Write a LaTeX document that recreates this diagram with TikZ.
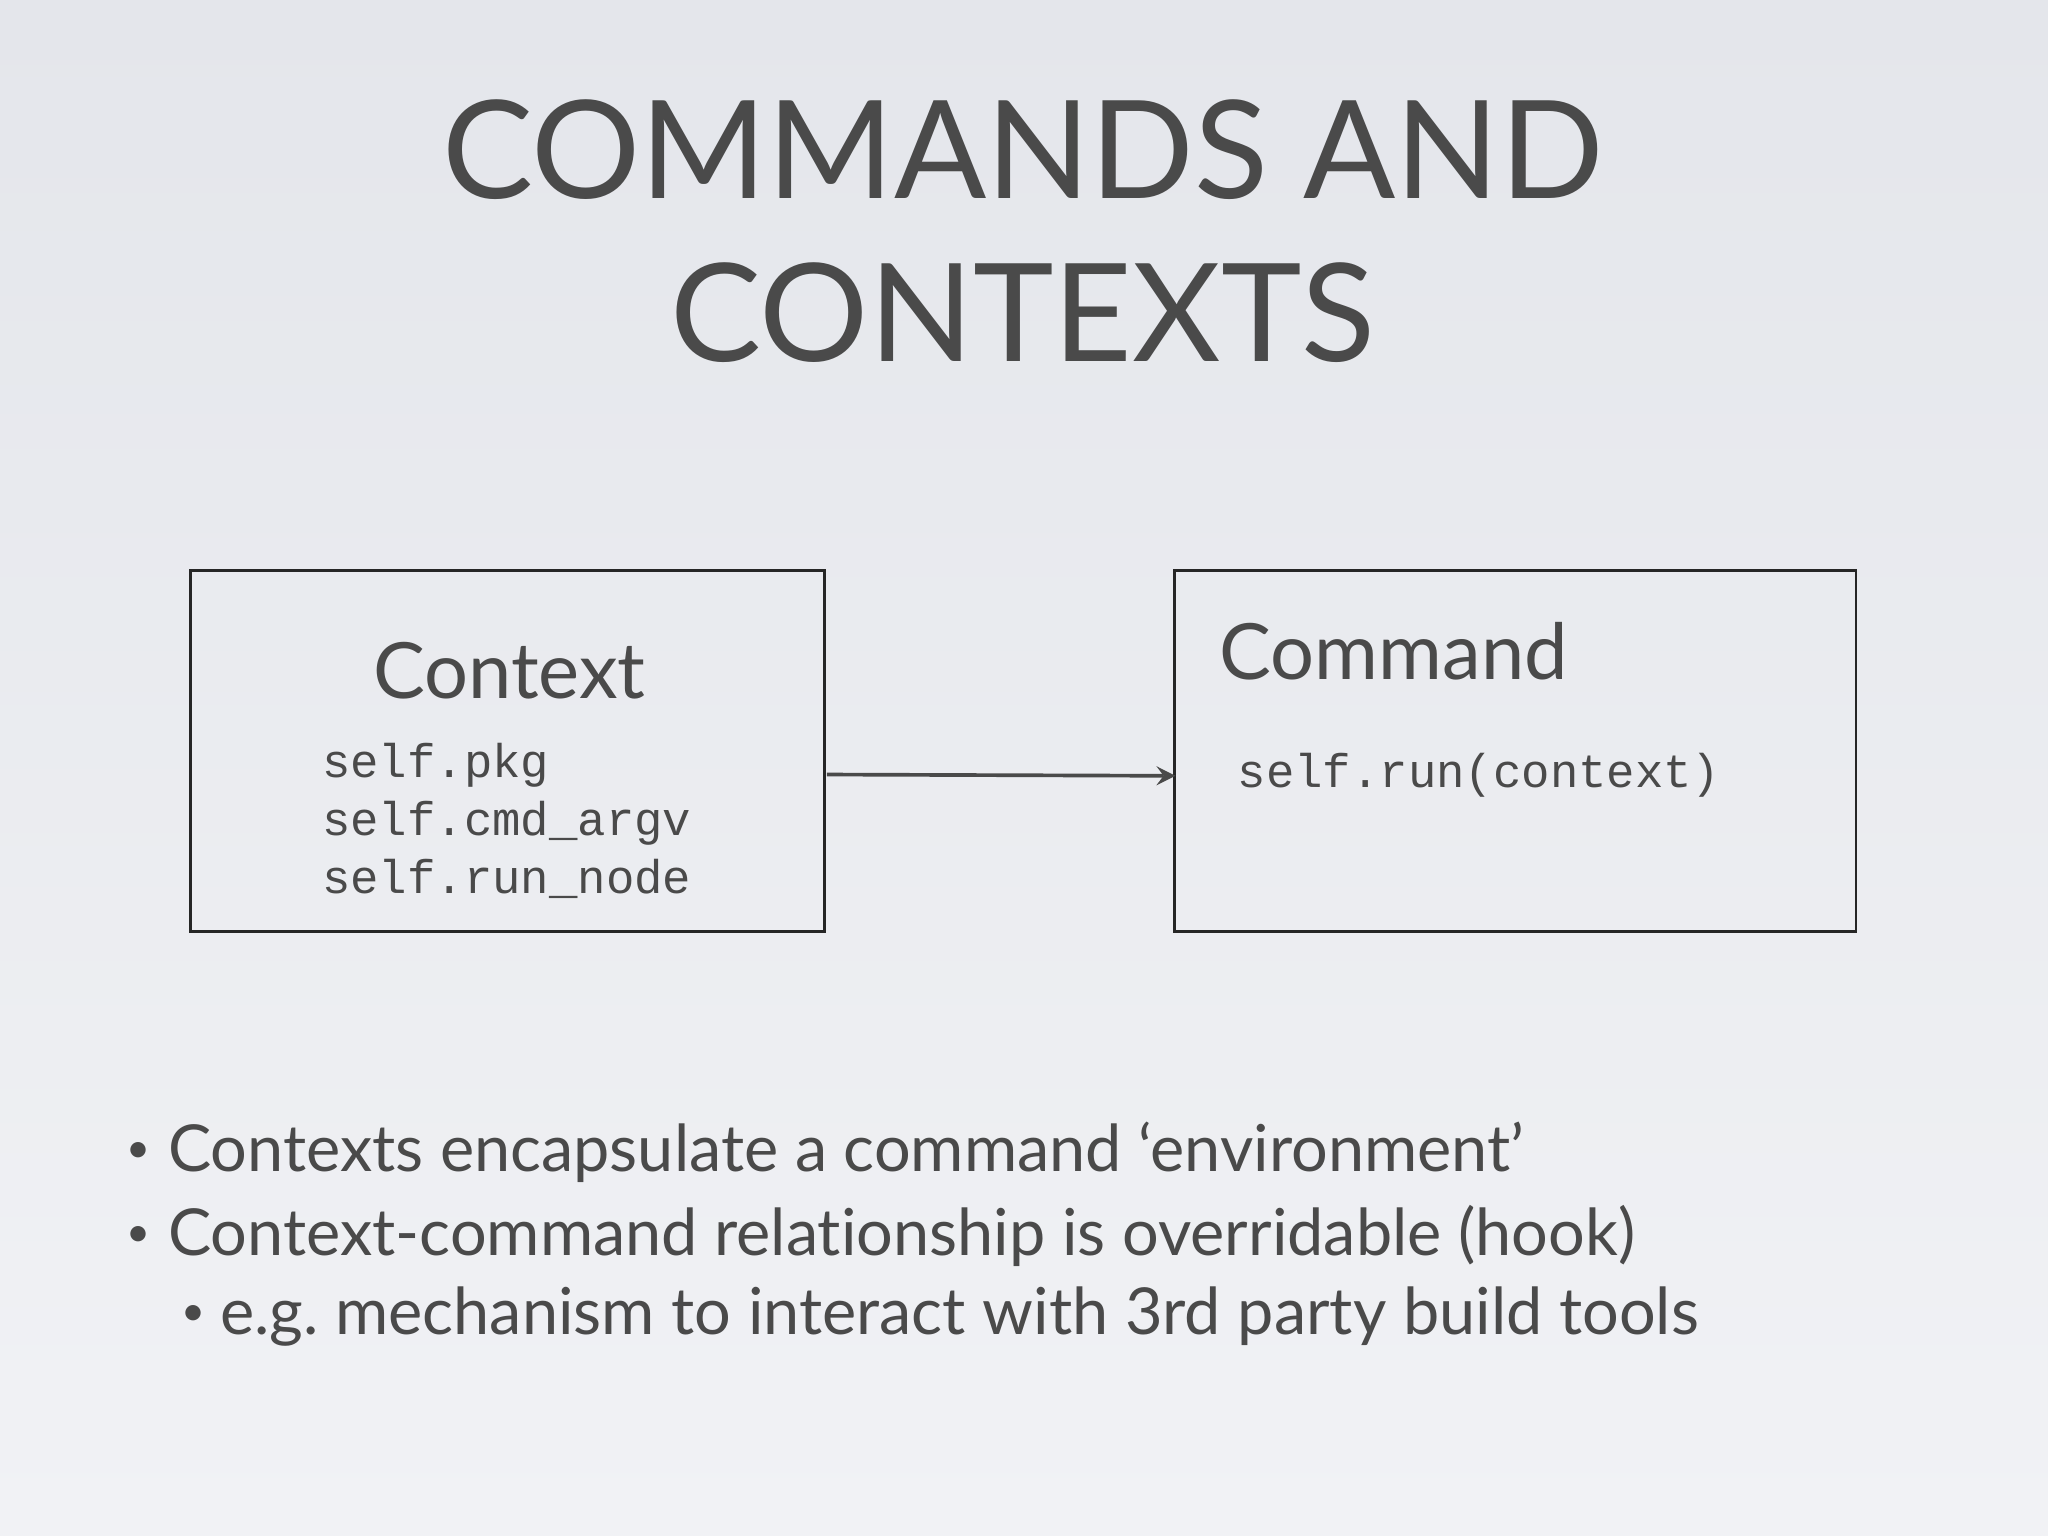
\documentclass[tikz,border=0pt]{standalone}
\usepackage{fontspec}
\setmainfont{Lato}[Ligatures={CommonOff}]
\setmonofont{Liberation Mono}
\definecolor{tx}{HTML}{4A4A4A}
\definecolor{bgtop}{HTML}{E4E6EB}
\definecolor{bgmid}{HTML}{F1F2F5}
\begin{document}
\begin{tikzpicture}[x=0.01cm,y=-0.01cm,
  box/.style={draw=black!85,line width=0.6pt},
  txt/.style={text=tx,inner sep=0,anchor=base west},
  mono/.style={txt,font=\ttfamily\fontsize{10.3}{12}\selectfont},
  bul/.style={txt,font=\fontsize{14.1}{17}\selectfont},
  dot/.style={txt,font=\fontsize{9}{10}\selectfont}]
\shade[top color=bgtop,bottom color=bgmid] (0,0) rectangle (1568,1176);
\useasboundingbox (0,0) rectangle (1568,1176);
\node[txt,anchor=base,font=\fontsize{29.7}{34}\selectfont] (t1) at (783,152) {COMMANDS AND};
\node[txt,anchor=base,font=\fontsize{29.7}{34}\selectfont] (t2) at (783,277) {CONTEXTS};
\draw[box] (146,437) rectangle (631,713);
\draw[box] (899,437) rectangle (1421,713);
\node[txt,anchor=base,font=\fontsize{16.9}{20}\selectfont] (ctx) at (390,535) {Context};
\node[mono] (m1) at (246,595) {self.pkg};
\node[mono] (m2) at (246,640) {self.cmd\_argv};
\node[mono] (m3) at (246,684) {self.run\_node};
\node[txt,font=\fontsize{16.9}{20}\selectfont] (cmd) at (933,520) {Command};
\node[mono] (r1) at (947,603) {self.run(context)};
\coordinate (a) at (633,593);
\coordinate (b) at (900,594);
\draw[-stealth,tx,line width=0.8pt] (a) -- (b);
\node[bul] (b1) at (128,897) {Contexts encapsulate a command ‘environment’};
\node[bul] (b2) at (128,961) {Context-command relationship is overridable (hook)};
\node[bul] (b3) at (168,1022) {e.g.\ mechanism to interact with 3rd party build tools};
\node[dot] (d1) at (96,890) {•};
\node[dot] (d2) at (96,954) {•};
\node[dot] (d3) at (138,1015) {•};
\end{tikzpicture}
\end{document}
